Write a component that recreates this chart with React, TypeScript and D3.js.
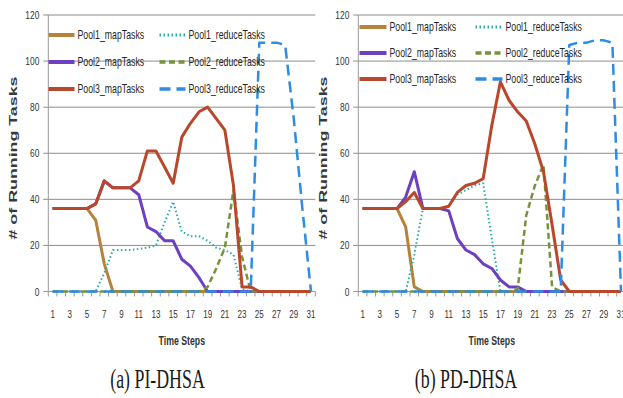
import React from 'react';
import * as d3 from 'd3';

// time steps on the category axis
const steps = [1, 2, 3, 4, 5, 6, 7, 8, 9, 10, 11, 12, 13, 14, 15, 16, 17, 18, 19, 20, 21, 22, 23, 24, 25, 26, 27, 28, 29, 30, 31];
const stepLabels = [1, 3, 5, 7, 9, 11, 13, 15, 17, 19, 21, 23, 25, 27, 29, 31];
const yTicks = [0, 20, 40, 60, 80, 100, 120];

// (a) PI-DHSA
const piPool1Map = [36, 36, 36, 36, 36, 31, 12, 0, 0, 0, 0, 0, 0, 0, 0, 0, 0, 0, 0, 0, 0, 0, 0, 0, 0, 0, 0, 0, 0, 0, 0];
const piPool1Reduce = [0, 0, 0, 0, 0, 0, 8, 18, 18, 18, 18.5, 19, 20, 30, 39, 26, 24, 24, 22, 19, 18, 16, 1, 0, 0, 0, 0, 0, 0, 0, 0];
const piPool2Map = [36, 36, 36, 36, 36, 38, 48, 45, 45, 45, 42, 28, 26, 22, 22, 14, 11, 6, 0, 0, 0, 0, 0, 0, 0, 0, 0, 0, 0, 0, 0];
const piPool2Reduce = [0, 0, 0, 0, 0, 0, 0, 0, 0, 0, 0, 0, 0, 0, 0, 0, 0, 0, 2, 10, 19, 44, 15, 0, 0, 0, 0, 0, 0, 0, 0];
const piPool3Map = [36, 36, 36, 36, 36, 38, 48, 45, 45, 45, 48, 61, 61, 54, 47, 67, 73, 78, 80, 75, 70, 46, 2, 2, 0, 0, 0, 0, 0, 0, 0];
const piPool3Reduce = [0, 0, 0, 0, 0, 0, 0, 0, 0, 0, 0, 0, 0, 0, 0, 0, 0, 0, 0, 0, 0, 0, 0, 0, 108, 108, 108, 107, 75, 36, 0];

// (b) PD-DHSA
const pdPool1Map = [36, 36, 36, 36, 36, 28, 2, 0, 0, 0, 0, 0, 0, 0, 0, 0, 0, 0, 0, 0, 0, 0, 0, 0, 0, 0, 0, 0, 0, 0, 0];
const pdPool1Reduce = [0, 0, 0, 0, 0, 0, 16, 36, 36, 36, 37, 42, 44, 46, 47, 23, 0, 0, 0, 0, 0, 0, 0, 0, 0, 0, 0, 0, 0, 0, 0];
const pdPool2Map = [36, 36, 36, 36, 36, 41, 52, 36, 36, 36, 35, 23, 18, 16, 12, 10, 5, 2, 2, 0, 0, 0, 0, 0, 0, 0, 0, 0, 0, 0, 0];
const pdPool2Reduce = [0, 0, 0, 0, 0, 0, 0, 0, 0, 0, 0, 0, 0, 0, 0, 0, 0, 0, 1, 33, 46, 55, 2, 0, 0, 0, 0, 0, 0, 0, 0];
const pdPool3Map = [36, 36, 36, 36, 36, 39, 43, 36, 36, 36, 37, 43, 46, 47, 49, 72, 91, 83, 78, 74, 64, 52, 29, 5, 0, 0, 0, 0, 0, 0, 0];
const pdPool3Reduce = [0, 0, 0, 0, 0, 0, 0, 0, 0, 0, 0, 0, 0, 0, 0, 0, 0, 0, 0, 0, 0, 0, 0, 0, 107, 108, 108, 109, 109, 108, 0];

const seriesNames = ['Pool1_mapTasks', 'Pool1_reduceTasks', 'Pool2_mapTasks', 'Pool2_reduceTasks', 'Pool3_mapTasks', 'Pool3_reduceTasks'];

const seriesStyle: Record<string, { color: string; width: number; dash?: string; cap?: string }> = {
  Pool1_mapTasks: { color: '#b5823c', width: 3 },
  Pool1_reduceTasks: { color: '#2ba8a8', width: 2, dash: '1.5 2.5' },
  Pool2_mapTasks: { color: '#6e3fc0', width: 3 },
  Pool2_reduceTasks: { color: '#76933c', width: 2.5, dash: '6 3.5' },
  Pool3_mapTasks: { color: '#b9472b', width: 3 },
  Pool3_reduceTasks: { color: '#2d8ce3', width: 2.5, dash: '11 6' },
};

const SANS = '"Liberation Sans", Arial, sans-serif';
const SQ = 0.73; // the source image is squeezed horizontally

function SText(props: any) {
  const { x, y, sx = SQ, size = 11, weight = 'normal', anchor = 'start', fill = '#333', family = SANS, dy, children } = props;
  return (
    <text transform={`translate(${x},${y}) scale(${sx},1)`} fontSize={size} fontWeight={weight}
      textAnchor={anchor} fill={fill} fontFamily={family} dy={dy}>{children}</text>
  );
}

function Panel(props: any) {
  const { left, data, legend, caption, captionX } = props;
  const x = d3.scaleBand<number>().domain(steps).range([left, left + 267]);
  const y = d3.scaleLinear().domain([0, 120]).range([291.5, 15]);
  const cx = (d: number) => (x(d) as number) + x.bandwidth() / 2;
  const line = d3.line<number>().x((d, i) => cx(steps[i])).y(d => y(d));
  const right = left + 267;
  const mid = (left + right) / 2;

  return (
    <g>
      {yTicks.map(t => (
        <g key={t}>
          <line x1={left - 5} x2={right} y1={y(t)} y2={y(t)} stroke={t === 0 ? '#999' : '#8c8c8c'} strokeWidth={1} />
          <SText x={left - 9} y={y(t)} dy="0.35em" anchor="end" size={11.5}>{t}</SText>
        </g>
      ))}
      <line x1={left} x2={left} y1={y(0)} y2={y(120)} stroke="#999" />
      {steps.map(s => (
        <line key={s} x1={x(s) as number} x2={x(s) as number} y1={y(0)} y2={y(0) + 5} stroke="#999" />
      ))}
      <line x1={right} x2={right} y1={y(0)} y2={y(0) + 5} stroke="#999" />
      {stepLabels.map(s => (
        <SText key={s} x={cx(s)} y={318} anchor="middle" size={11}>{s}</SText>
      ))}
      <SText x={mid} y={345} anchor="middle" size={12} weight="bold">Time Steps</SText>
      <text transform={`translate(${left - 31},158) rotate(-90) scale(1,0.73)`} textAnchor="middle"
        fontSize={15} fontWeight="bold" fill="#3a3a3a" fontFamily={SANS} textLength={163} lengthAdjust="spacingAndGlyphs">
        # of Running Tasks
      </text>

      {seriesNames.map(name => {
        const st = seriesStyle[name];
        return (
          <path key={name} d={line(data[name]) || ''} fill="none" stroke={st.color} strokeWidth={st.width}
            strokeDasharray={st.dash} strokeLinejoin="round" />
        );
      })}

      {seriesNames.map((name, i) => {
        const st = seriesStyle[name];
        const col = i % 2;
        const row = Math.floor(i / 2);
        const sx = legend.cols[col];
        const sy = legend.rows[row];
        return (
          <g key={name}>
            <line x1={sx} x2={sx + legend.sample} y1={sy} y2={sy} stroke={st.color}
              strokeWidth={st.dash ? st.width + 1 : 4} strokeDasharray={st.dash} />
            <SText x={sx + legend.sample + 3} y={sy} dy="0.35em" size={12} fill="#262626">{name}</SText>
          </g>
        );
      })}

      <SText x={captionX} y={388} anchor="middle" size={27} sx={0.66} fill="#1a1a1a"
        family={'"Liberation Serif", "Times New Roman", serif'}>{caption}</SText>
    </g>
  );
}

export default function App() {
  const piData = {
    Pool1_mapTasks: piPool1Map, Pool1_reduceTasks: piPool1Reduce,
    Pool2_mapTasks: piPool2Map, Pool2_reduceTasks: piPool2Reduce,
    Pool3_mapTasks: piPool3Map, Pool3_reduceTasks: piPool3Reduce,
  };
  const pdData = {
    Pool1_mapTasks: pdPool1Map, Pool1_reduceTasks: pdPool1Reduce,
    Pool2_mapTasks: pdPool2Map, Pool2_reduceTasks: pdPool2Reduce,
    Pool3_mapTasks: pdPool3Map, Pool3_reduceTasks: pdPool3Reduce,
  };
  return (
    <svg width={623} height={398} style={{ position: 'absolute', left: 0, top: 0, background: '#fff' }}>
      <rect width={623} height={398} fill="#fff" />
      <Panel left={48.3} data={piData} caption="(a) PI-DHSA" captionX={157.5}
        legend={{ cols: [48.5, 159.5], rows: [35, 62, 89], sample: 26 }} />
      <Panel left={358.3} data={pdData} caption="(b) PD-DHSA" captionX={466}
        legend={{ cols: [359.5, 475.5], rows: [27, 53, 79], sample: 27 }} />
    </svg>
  );
}
